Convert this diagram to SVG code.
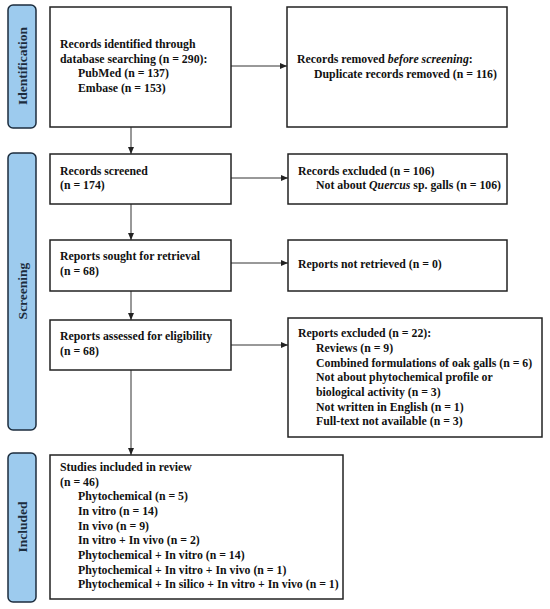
<svg xmlns="http://www.w3.org/2000/svg" width="550" height="609" viewBox="0 0 550 609">
<style>
.bg{fill:#ffffff}
.side{fill:#9dcbee;stroke:#1c2d3e;stroke-width:1.5}
.box{fill:#ffffff;stroke:#222222;stroke-width:1.5}
.t{font-family:"Liberation Serif","Times New Roman",serif;font-weight:bold;font-size:11.8px;fill:#111111}
.st{font-family:"Liberation Serif","Times New Roman",serif;font-weight:bold;font-size:13.5px;fill:#1c2d3e}
.c{stroke:#333333;stroke-width:1;fill:none;marker-end:url(#ah)}
</style>
<defs>
<marker id="ah" markerWidth="8" markerHeight="8" refX="7" refY="4" orient="auto" markerUnits="userSpaceOnUse">
<path d="M0,1 L7,4 L0,7 Z" fill="#222222"/>
</marker>
</defs>
<rect class="bg" x="0" y="0" width="550" height="609"/>
<g id="side-identification">
<rect class="side" x="8" y="5" width="28" height="123" rx="5"/>
<text class="st" transform="translate(27,66) rotate(-90)" text-anchor="middle">Identification</text>
</g>
<g id="side-screening">
<rect class="side" x="8" y="153" width="28" height="277" rx="5"/>
<text class="st" transform="translate(27,291) rotate(-90)" text-anchor="middle">Screening</text>
</g>
<g id="side-included">
<rect class="side" x="8" y="453" width="28" height="149" rx="5"/>
<text class="st" transform="translate(27,527) rotate(-90)" text-anchor="middle">Included</text>
</g>
<g id="connectors">
<line class="c" x1="231" y1="66" x2="287" y2="66"/>
<line class="c" x1="131" y1="127" x2="131" y2="154"/>
<line class="c" x1="231" y1="178" x2="288" y2="178"/>
<line class="c" x1="131" y1="204" x2="131" y2="240"/>
<line class="c" x1="231" y1="263" x2="288" y2="263"/>
<line class="c" x1="131" y1="291" x2="131" y2="320"/>
<line class="c" x1="231" y1="345" x2="288" y2="345"/>
<line class="c" x1="131" y1="370" x2="131" y2="455"/>
</g>
<g id="n-identified">
<rect class="box" x="50" y="7" width="181" height="120"/>
<text class="t" x="60" y="48">Records identified through</text>
<text class="t" x="60" y="63">database searching (n = 290):</text>
<text class="t" x="78" y="77">PubMed (n = 137)</text>
<text class="t" x="78" y="92">Embase (n = 153)</text>
</g>
<g id="n-removed">
<rect class="box" x="287" y="7" width="220" height="120"/>
<text class="t" x="297" y="63">Records removed <tspan font-style="italic">before screening</tspan>:</text>
<text class="t" x="314" y="78">Duplicate records removed (n = 116)</text>
</g>
<g id="n-screened">
<rect class="box" x="50" y="154" width="181" height="50"/>
<text class="t" x="60" y="175">Records screened</text>
<text class="t" x="60" y="189">(n = 174)</text>
</g>
<g id="n-excluded">
<rect class="box" x="288" y="154" width="219" height="50"/>
<text class="t" x="298" y="175">Records excluded (n = 106)</text>
<text class="t" x="316" y="189">Not about <tspan font-style="italic">Quercus</tspan> sp. galls (n = 106)</text>
</g>
<g id="n-sought">
<rect class="box" x="50" y="240" width="181" height="51"/>
<text class="t" x="60" y="260">Reports sought for retrieval</text>
<text class="t" x="60" y="275">(n = 68)</text>
</g>
<g id="n-notretrieved">
<rect class="box" x="288" y="240" width="219" height="51"/>
<text class="t" x="298" y="268">Reports not retrieved (n = 0)</text>
</g>
<g id="n-assessed">
<rect class="box" x="50" y="320" width="181" height="50"/>
<text class="t" x="60" y="340">Reports assessed for eligibility</text>
<text class="t" x="60" y="355">(n = 68)</text>
</g>
<g id="n-reportsexcluded">
<rect class="box" x="288" y="318" width="254" height="119"/>
<text class="t" x="298" y="337">Reports excluded (n = 22):</text>
<text class="t" x="316" y="352">Reviews (n = 9)</text>
<text class="t" x="316" y="367">Combined formulations of oak galls (n = 6)</text>
<text class="t" x="316" y="381">Not about phytochemical profile or</text>
<text class="t" x="316" y="396">biological activity (n = 3)</text>
<text class="t" x="316" y="411">Not written in English (n = 1)</text>
<text class="t" x="316" y="425">Full-text not available (n = 3)</text>
</g>
<g id="n-included">
<rect class="box" x="50" y="455" width="293" height="144"/>
<text class="t" x="60" y="471">Studies included in review</text>
<text class="t" x="60" y="486">(n = 46)</text>
<text class="t" x="78" y="500">Phytochemical (n = 5)</text>
<text class="t" x="78" y="515">In vitro (n = 14)</text>
<text class="t" x="78" y="530">In vivo (n = 9)</text>
<text class="t" x="78" y="544">In vitro + In vivo (n = 2)</text>
<text class="t" x="78" y="559">Phytochemical + In vitro (n = 14)</text>
<text class="t" x="78" y="574">Phytochemical + In vitro + In vivo (n = 1)</text>
<text class="t" x="78" y="588">Phytochemical + In silico + In vitro + In vivo (n = 1)</text>
</g>
</svg>
